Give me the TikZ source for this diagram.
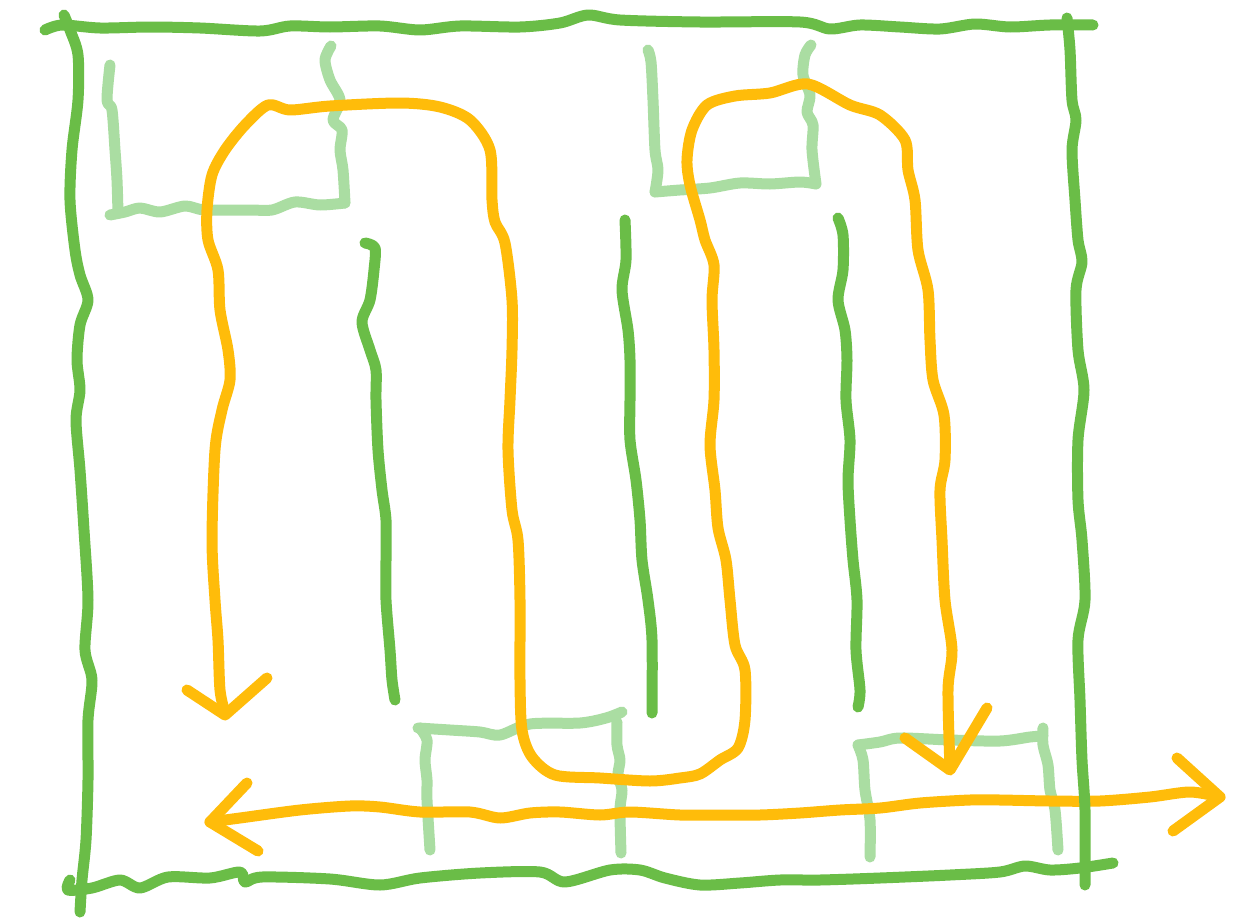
\documentclass[tikz,border=0pt]{standalone}
\definecolor{dgreen}{HTML}{6ABD47}
\definecolor{lgreen}{HTML}{AADDA2}
\definecolor{sorange}{HTML}{FFBC0A}
\begin{document}
\begin{tikzpicture}[x=1pt,y=-1pt,
  pen/.style={line width=11pt,line cap=round,line join=round},
  frame/.style={pen,draw=dgreen},
  wall/.style={pen,draw=lgreen},
  flow/.style={pen,draw=sorange},
  sm/.style={smooth,tension=0.5}]
\useasboundingbox[fill=white] (0,0) rectangle (1251,918);
% light green partitions
\draw[wall] plot[sm] coordinates {(110,65)(107,100)(112,110)(115,150)(117,180)(118,213)};
\draw[wall] plot[sm] coordinates {(110,215)(125,212)(140,208)(160,212)(185,206)(205,210)(250,210)(272,210)(295,202)(320,205)(345,203)};
\draw[wall] plot[sm] coordinates {(345,203)(343,170)(340,150)(342,130)(333,120)(340,100)(330,80)(325,60)(331,46)};
\draw[wall] plot[sm] coordinates {(648,50)(651,62)(653,100)(655,150)(658,170)(655,192)};
\draw[wall] plot[sm] coordinates {(655,192)(680,190)(710,188)(740,183)(770,184)(800,182)(816,184)};
\draw[wall] plot[sm] coordinates {(816,184)(812,150)(813,125)(807,112)(810,95)(803,75)(805,55)(811,45)};
\draw[wall] plot[sm] coordinates {(430,850)(427,800)(427,780)(425,760)(427,740)(420,728)};
\draw[wall] plot[sm] coordinates {(418,728)(450,730)(480,732)(500,735)(530,724)(580,723)(606,718)(622,712)};
\draw[wall] plot[sm] coordinates {(617,722)(617,745)(620,760)(618,775)(622,790)(620,810)(621,853)};
\draw[wall] plot[sm] coordinates {(870,857)(870,820)(865,790)(863,760)(858,745)};
\draw[wall] plot[sm] coordinates {(858,745)(880,742)(900,738)(950,740)(1000,741)(1030,737)(1043,736)};
\draw[wall] plot[sm] coordinates {(1043,728)(1043,745)(1048,765)(1050,790)(1055,810)(1058,850)};
% orange main flow
\draw[flow] plot[sm] coordinates {(225,713)(220,690)(218,640)(215,600)(212,540)(215,450)(222,410)(230,380)(228,350)(220,310)(218,270)(208,240)(207,210)(212,175)(225,150)(245,125)(268,105)(290,110)(330,106)(400,103)(440,107)(470,120)(490,150)(492,200)(495,222)(505,243)(512,300)(512,350)(510,400)(508,450)(512,510)(518,540)(520,600)(520,680)(522,730)(532,757)(555,775)(600,778)(650,781)(680,778)(700,774)(720,760)(738,748)(745,720)(745,670)(735,645)(730,600)(726,560)(718,528)(715,490)(710,445)(714,400)(714,350)(712,300)(714,265)(705,240)(700,220)(690,185)(687,160)(692,130)(707,105)(735,96)(770,93)(808,84)(850,105)(880,115)(905,140)(908,170)(915,200)(918,250)(928,290)(930,340)(933,380)(944,415)(945,460)(940,490)(942,540)(945,600)(952,650)(948,690)(950,768)};
\draw[flow] (187,690) -- (225,715) -- (267,678);
\draw[flow] (905,738) -- (950,770) -- (987,708);
% bottom double arrow
\draw[flow] plot[sm] coordinates {(210,822)(240,818)(300,810)(350,806)(380,807)(420,812)(470,812)(500,818)(530,813)(560,812)(600,815)(630,812)(680,815)(720,815)(760,815)(800,813)(840,810)(880,808)(920,803)(970,800)(1000,800)(1050,801)(1100,801)(1150,797)(1190,792)(1220,797)};
\draw[flow] (247,783) -- (210,822) -- (258,851);
\draw[flow] (1177,758) -- (1220,797) -- (1173,831);
% dark green frame
\draw[frame] plot[sm] coordinates {(45,30)(62,25)(100,28)(150,27)(200,28)(260,31)(290,26)(330,27)(380,26)(420,30)(460,26)(520,27)(560,23)(588,15)(620,20)(700,22)(800,22)(830,29)(860,25)(900,27)(940,29)(975,24)(1010,27)(1050,25)(1093,25)};
\draw[frame] plot[sm] coordinates {(64,15)(70,30)(78,55)(78,100)(72,150)(70,200)(75,250)(80,275)(88,300)(80,325)(77,360)(80,390)(76,420)(80,470)(84,530)(88,600)(85,650)(92,680)(88,720)(88,780)(86,840)(82,880)(80,912)};
\draw[frame] plot[sm] coordinates {(1067,18)(1070,50)(1072,100)(1076,120)(1072,150)(1075,200)(1078,240)(1082,262)(1076,290)(1078,350)(1084,390)(1078,440)(1078,500)(1082,540)(1085,600)(1078,640)(1080,700)(1082,760)(1085,810)(1085,885)};
\draw[frame] plot[sm] coordinates {(70,880)(68,890)(92,888)(120,880)(140,888)(168,877)(210,878)(240,872)(245,882)(262,877)(330,879)(380,885)(420,878)(480,873)(540,872)(565,882)(610,870)(640,870)(665,878)(700,885)(740,883)(780,880)(820,880)(880,878)(950,875)(1000,872)(1025,866)(1050,870)(1080,868)(1113,863)};
% dark green inner walls
\draw[frame] plot[sm] coordinates {(365,243)(375,248)(374,270)(370,300)(362,322)(370,350)(376,370)(376,400)(378,450)(382,490)(386,520)(386,560)(386,600)(390,650)(392,680)(395,700)};
\draw[frame] plot[sm] coordinates {(625,220)(626,260)(622,290)(628,330)(630,360)(630,400)(630,440)(636,480)(640,520)(642,560)(648,600)(652,640)(652,713)};
\draw[frame] plot[sm] coordinates {(838,218)(843,235)(843,270)(838,300)(845,330)(847,360)(846,400)(850,440)(848,480)(850,520)(853,560)(857,600)(856,650)(860,690)(858,707)};
\end{tikzpicture}
\end{document}
